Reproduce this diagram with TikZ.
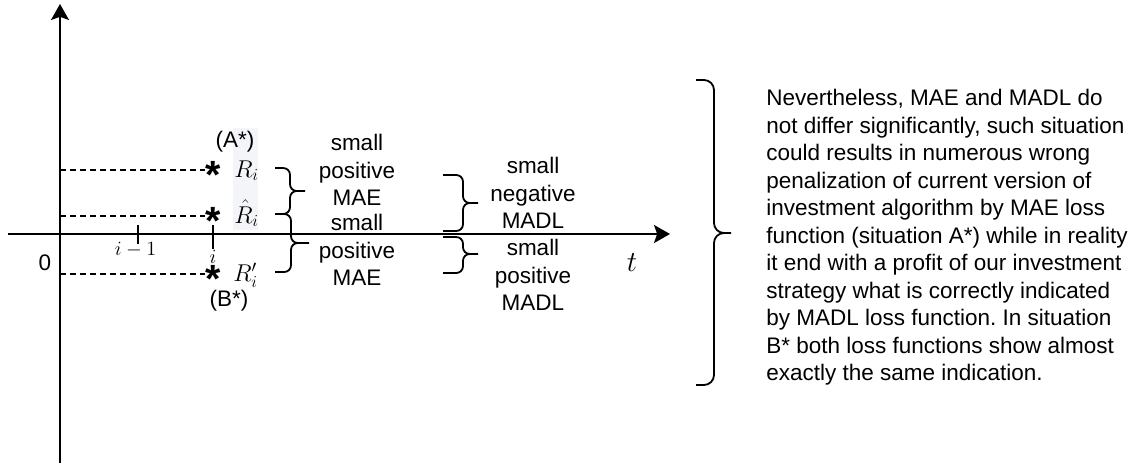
\documentclass[tikz,border=0pt]{standalone}
\usepackage{fontspec}
\setmainfont{Liberation Sans}
\usetikzlibrary{arrows.meta,positioning}

\definecolor{shadebox}{RGB}{244,245,248}

\tikzset{
    axis/.style={line width=0.05cm, -{Stealth[length=0.4cm,width=0.45cm,inset=0.08cm]}},
    guide/.style={line width=0.035cm, dash pattern=on 0.15cm off 0.1cm},
    tick/.style={line width=0.04cm},
    curly/.style={line width=0.045cm, rounded corners=0.17cm},
    words/.style={font=\fontsize{16}{19.4}\selectfont, align=center, inner sep=0pt},
    maths/.style={font=\fontsize{15}{16}\selectfont, inner sep=0pt},
    starmark/.style={font=\fontsize{28}{28}\selectfont\bfseries, inner sep=0pt, anchor=base},
}

\frenchspacing
\begin{document}
\begin{tikzpicture}[x=0.025cm, y=-0.025cm]
    \useasboundingbox (0,0) rectangle (1139,463);

    \fill[shadebox] (233,128) rectangle (258,230);

    % axes
    \coordinate (yfoot) at (60,463);
    \coordinate (ytip) at (60,4);
    \coordinate (xfoot) at (8,234);
    \coordinate (xtip) at (670,234);
    \draw[axis] (yfoot) -- (ytip);
    \draw[axis] (xfoot) -- (xtip);

    % ticks
    \coordinate (prevtop) at (138,225);
    \coordinate (prevbot) at (138,244);
    \coordinate (curtop) at (213,225);
    \coordinate (curbot) at (213,249);
    \draw[tick] (prevtop) -- (prevbot);
    \draw[tick] (curtop) -- (curbot);

    \node[maths, anchor=base] (lblprev) at (135.5,255) {$i-1$};
    \node[maths, anchor=base] (lblcur) at (213,263) {$i$};
    \node[words] (zero) at (45,263) {0};
    \node[maths, font=\fontsize{20}{21}\selectfont] (tlabel) at (632,263) {$t$};

    % levels
    \coordinate (axA) at (60,170);
    \coordinate (axHat) at (60,216);
    \coordinate (axB) at (60,274);
    \coordinate (rowA) at (205,170);
    \coordinate (rowHat) at (205,216);
    \coordinate (rowB) at (205,274);
    \draw[guide] (axA) -- (rowA);
    \draw[guide] (axHat) -- (rowHat);
    \draw[guide] (axB) -- (rowB);

    \node[starmark] (starA) at (213,188) {*};
    \node[starmark] (starHat) at (213,234) {*};
    \node[starmark] (starB) at (213,292) {*};

    \node[maths, font=\fontsize{17}{18}\selectfont, anchor=base west] (rTrue) at (234,177) {$R_i$};
    \node[maths, font=\fontsize{17}{18}\selectfont, anchor=base west] (rHat) at (234,223) {$\hat{R}_i$};
    \node[maths, font=\fontsize{17}{18}\selectfont, anchor=base west] (rPrime) at (233,281) {$R'_i$};

    \node[words] (sitA) at (235,142) {(A*)};
    \node[words] (sitB) at (229,301) {(B*)};

    % braces
    \draw[curly] (275,168) -- (290,168) -- (290,191) -- (305,191)
                 (305,191) -- (290,191) -- (290,214) -- (275,214);
    \draw[curly] (275,214) -- (291,214) -- (291,243) -- (309,243)
                 (309,243) -- (291,243) -- (291,272) -- (275,272);
    \draw[curly] (443,175) -- (463,175) -- (463,203) -- (478,203)
                 (478,203) -- (463,203) -- (463,231) -- (443,231);
    \draw[curly] (443,237) -- (463,237) -- (463,254) -- (478,254)
                 (478,254) -- (463,254) -- (463,273) -- (443,273);
    \draw[curly, rounded corners=0.25cm] (696,80) -- (714,80) -- (714,233) -- (731,233)
                 (731,233) -- (714,233) -- (714,385) -- (696,385);

    \node[words] (maeUp) at (357,170) {small\\positive\\MAE};
    \node[words] (maeDown) at (357,250) {small\\positive\\MAE};
    \node[words] (madlUp) at (533,193) {small\\negative\\MADL};
    \node[words] (madlDown) at (533,275) {small\\positive\\MADL};

    \node[words, align=left, anchor=west, font=\fontsize{16}{19.55}\selectfont] (note) at (766,237.6)
        {Nevertheless, MAE and MADL do\\
         not differ significantly, such situation\\
         could results in numerous wrong\\
         penalization of current version of\\
         investment algorithm by MAE loss\\
         function (situation A*) while in reality\\
         it end with a profit of our investment\\
         strategy what is correctly indicated\\
         by MADL loss function. In situation\\
         B* both loss functions show almost\\
         exactly the same indication.};
\end{tikzpicture}
\end{document}
